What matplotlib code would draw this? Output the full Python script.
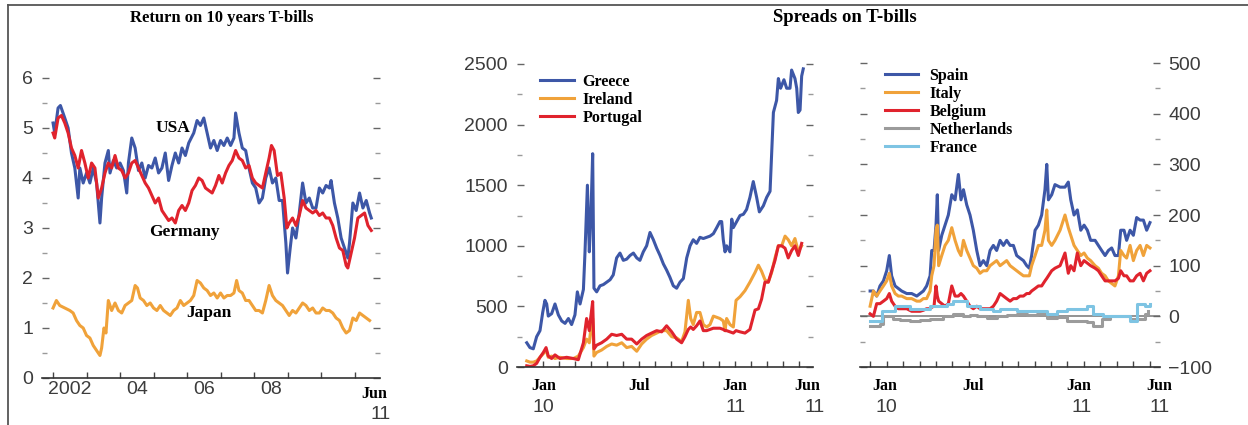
import matplotlib
matplotlib.use("Agg")
import matplotlib.pyplot as plt
from matplotlib.lines import Line2D
from matplotlib.ticker import FixedLocator

# ---------------- 10-year government bond yields (%) ----------------
usa_t = [2002.00, 2002.05, 2002.15, 2002.22, 2002.35, 2002.45, 2002.55, 2002.65, 2002.75, 2002.80,
         2002.90, 2003.00, 2003.10, 2003.20, 2003.30, 2003.40, 2003.45, 2003.55, 2003.65, 2003.70,
         2003.80, 2003.90, 2004.00, 2004.10, 2004.20, 2004.25, 2004.35, 2004.45, 2004.55, 2004.65,
         2004.75, 2004.85, 2004.95, 2005.05, 2005.15, 2005.25, 2005.35, 2005.45, 2005.55, 2005.65,
         2005.75, 2005.85, 2005.95, 2006.05, 2006.20, 2006.30, 2006.40, 2006.50, 2006.60, 2006.70,
         2006.80, 2006.90, 2007.00, 2007.10, 2007.20, 2007.30, 2007.40, 2007.45, 2007.55, 2007.65,
         2007.75, 2007.85, 2007.95, 2008.05, 2008.15, 2008.25, 2008.35, 2008.45, 2008.55, 2008.65,
         2008.75, 2008.85, 2008.95, 2009.00, 2009.08, 2009.15, 2009.25, 2009.35, 2009.45, 2009.55,
         2009.65, 2009.75, 2009.85, 2009.95, 2010.05, 2010.15, 2010.25, 2010.30, 2010.40, 2010.50,
         2010.60, 2010.70, 2010.80, 2010.85, 2010.95, 2011.05, 2011.15, 2011.25, 2011.35, 2011.45,
         2011.50]
usa_v = [5.1, 4.9, 5.4, 5.45, 5.2, 5.0, 4.5, 4.2, 3.6, 4.2,
         3.9, 4.1, 3.9, 4.2, 3.9, 3.1, 3.6, 4.3, 4.55, 4.1,
         4.35, 4.2, 4.3, 4.15, 3.7, 4.3, 4.8, 4.6, 4.15, 4.3,
         4.0, 4.25, 4.2, 4.4, 4.1, 4.2, 4.5, 3.95, 4.25, 4.5,
         4.3, 4.6, 4.45, 4.7, 4.9, 5.15, 5.05, 5.2, 4.9, 4.6,
         4.75, 4.55, 4.75, 4.65, 4.8, 4.65, 4.8, 5.3, 4.9, 4.6,
         4.55, 4.2, 3.9, 3.8, 3.5, 3.6, 4.0, 4.2, 3.9, 4.0,
         3.55, 3.55, 2.7, 2.1, 2.6, 3.0, 2.8, 3.3, 3.9, 3.5,
         3.6, 3.4, 3.4, 3.8, 3.7, 3.85, 3.8, 3.95, 3.5, 3.2,
         2.8, 2.6, 2.4, 2.7, 3.5, 3.35, 3.7, 3.4, 3.55, 3.3,
         3.2]

germany_t = [2002.00, 2002.05, 2002.15, 2002.25, 2002.35, 2002.45, 2002.55, 2002.65, 2002.75, 2002.85,
             2002.95, 2003.05, 2003.15, 2003.25, 2003.35, 2003.45, 2003.55, 2003.65, 2003.75, 2003.85,
             2003.95, 2004.05, 2004.15, 2004.25, 2004.35, 2004.45, 2004.55, 2004.65, 2004.75, 2004.85,
             2004.95, 2005.05, 2005.15, 2005.25, 2005.35, 2005.45, 2005.55, 2005.65, 2005.75, 2005.85,
             2005.95, 2006.05, 2006.15, 2006.25, 2006.35, 2006.45, 2006.55, 2006.65, 2006.75, 2006.85,
             2006.95, 2007.05, 2007.15, 2007.25, 2007.35, 2007.45, 2007.55, 2007.65, 2007.75, 2007.85,
             2007.95, 2008.05, 2008.15, 2008.25, 2008.35, 2008.45, 2008.52, 2008.60, 2008.70, 2008.80,
             2008.90, 2008.98, 2009.05, 2009.15, 2009.25, 2009.35, 2009.45, 2009.55, 2009.65, 2009.75,
             2009.85, 2009.95, 2010.05, 2010.15, 2010.25, 2010.35, 2010.45, 2010.55, 2010.65, 2010.75,
             2010.80, 2010.90, 2011.00, 2011.10, 2011.20, 2011.30, 2011.40, 2011.50]
germany_v = [4.9, 4.8, 5.2, 5.25, 5.1, 4.9, 4.6, 4.45, 4.2, 4.55,
             4.3, 4.0, 4.3, 4.2, 3.6, 3.8, 4.1, 4.3, 4.2, 4.45,
             4.2, 4.15, 4.0, 4.1, 4.3, 4.35, 4.2, 4.05, 3.9, 3.8,
             3.65, 3.5, 3.6, 3.35, 3.25, 3.15, 3.2, 3.1, 3.35, 3.45,
             3.35, 3.5, 3.75, 3.85, 4.0, 3.95, 3.8, 3.75, 3.7, 3.85,
             4.05, 3.9, 4.1, 4.25, 4.35, 4.55, 4.4, 4.35, 4.2, 4.25,
             4.0, 3.9, 3.85, 3.8, 4.1, 4.4, 4.65, 4.55, 4.05, 4.1,
             3.6, 3.0, 3.1, 3.2, 3.05, 3.25, 3.55, 3.4, 3.35, 3.3,
             3.35, 3.25, 3.3, 3.2, 3.2, 3.05, 2.8, 2.6, 2.55, 2.25,
             2.2, 2.5, 2.8, 3.2, 3.25, 3.3, 3.05, 2.95]

japan_t = [2002.00, 2002.10, 2002.20, 2002.35, 2002.50, 2002.60, 2002.70, 2002.80, 2002.90, 2003.00,
           2003.10, 2003.20, 2003.30, 2003.40, 2003.45, 2003.52, 2003.58, 2003.65, 2003.75, 2003.85,
           2003.95, 2004.05, 2004.15, 2004.25, 2004.35, 2004.45, 2004.52, 2004.60, 2004.70, 2004.80,
           2004.90, 2005.00, 2005.10, 2005.20, 2005.30, 2005.40, 2005.50, 2005.60, 2005.70, 2005.80,
           2005.90, 2006.00, 2006.10, 2006.20, 2006.30, 2006.40, 2006.50, 2006.60, 2006.70, 2006.80,
           2006.90, 2007.00, 2007.10, 2007.20, 2007.30, 2007.40, 2007.48, 2007.55, 2007.65, 2007.75,
           2007.85, 2007.95, 2008.05, 2008.15, 2008.25, 2008.35, 2008.45, 2008.55, 2008.65, 2008.75,
           2008.85, 2008.95, 2009.05, 2009.15, 2009.25, 2009.35, 2009.45, 2009.55, 2009.65, 2009.75,
           2009.85, 2009.95, 2010.05, 2010.15, 2010.25, 2010.35, 2010.45, 2010.55, 2010.65, 2010.75,
           2010.85, 2010.95, 2011.05, 2011.15, 2011.25, 2011.35, 2011.45]
japan_v = [1.4, 1.55, 1.45, 1.4, 1.35, 1.3, 1.15, 1.05, 1.0, 0.85,
           0.8, 0.65, 0.55, 0.45, 0.6, 1.0, 0.9, 1.55, 1.35, 1.5,
           1.35, 1.3, 1.45, 1.5, 1.55, 1.85, 1.8, 1.6, 1.55, 1.45,
           1.5, 1.4, 1.35, 1.45, 1.35, 1.3, 1.25, 1.35, 1.4, 1.55,
           1.45, 1.5, 1.55, 1.65, 1.95, 1.9, 1.8, 1.75, 1.65, 1.7,
           1.6, 1.7, 1.6, 1.65, 1.65, 1.7, 1.95, 1.75, 1.7, 1.55,
           1.55, 1.45, 1.35, 1.35, 1.3, 1.55, 1.85, 1.65, 1.55, 1.5,
           1.45, 1.35, 1.25, 1.35, 1.3, 1.4, 1.5, 1.45, 1.35, 1.4,
           1.3, 1.3, 1.4, 1.35, 1.35, 1.3, 1.2, 1.15, 1.0, 0.9,
           0.95, 1.2, 1.15, 1.3, 1.25, 1.2, 1.15]

year_ticks = list(range(2002, 2012))
year_labels = ["2002", "04", "06", "08"]
year_label_pos = [2002.5, 2004.5, 2006.5, 2008.5]

# ---------------- spreads vs Bund (bp), months from Jan 2010 ----------------
greece_t = [-1.04, -0.84, -0.63, -0.42, -0.21, -0.04, 0.10, 0.21, 0.31, 0.52,
            0.73, 0.94, 1.15, 1.36, 1.57, 1.77, 1.98, 2.13, 2.30, 2.51,
            2.61, 2.76, 2.88, 2.99, 3.09, 3.17, 3.34, 3.55, 3.76, 3.97,
            4.18, 4.38, 4.59, 4.80, 5.01, 5.22, 5.43, 5.64, 5.85, 6.05,
            6.26, 6.47, 6.68, 6.89, 7.10, 7.31, 7.52, 7.72, 7.93, 8.14,
            8.35, 8.56, 8.77, 8.98, 9.19, 9.39, 9.60, 9.81, 10.02, 10.23,
            10.44, 10.65, 10.86, 11.06, 11.17, 11.27, 11.38, 11.48, 11.69, 11.80,
            11.90, 12.11, 12.32, 12.53, 12.73, 12.94, 13.15, 13.36, 13.53, 13.78,
            13.99, 14.20, 14.41, 14.61, 14.72, 14.86, 15.07, 15.24, 15.45, 15.55,
            15.76, 15.87, 15.97, 16.08, 16.18, 16.28]
greece_v = [200, 160, 150, 250, 300, 450, 550, 520, 420, 440,
            520, 430, 380, 360, 400, 350, 430, 620, 520, 640,
            950, 1500, 950, 1300, 1760, 650, 620, 670, 680, 700,
            720, 760, 900, 940, 880, 890, 920, 940, 900, 880,
            950, 1000, 1110, 1050, 980, 920, 850, 800, 740, 670,
            650, 700, 730, 900, 1000, 1050, 1020, 1070, 1060, 1070,
            1080, 1100, 1150, 1200, 1200, 1050, 950, 1000, 950, 1220,
            1150, 1200, 1250, 1260, 1300, 1400, 1530, 1400, 1280, 1330,
            1400, 1450, 2100, 2200, 2380, 2300, 2370, 2300, 2300, 2450,
            2380, 2300, 2100, 2120, 2400, 2460]

periph_t = [-1.04, -0.84, -0.63, -0.42, -0.21, 0.00, 0.17, 0.31, 0.52, 0.73,
            1.04, 1.46, 1.88, 2.19, 2.51, 2.71, 2.88, 2.96, 3.09, 3.17,
            3.34, 3.65, 3.97, 4.28, 4.59, 4.91, 5.22, 5.53, 5.85, 6.16,
            6.47, 6.78, 7.10, 7.41, 7.72, 8.04, 8.35, 8.66, 8.87, 9.08,
            9.23, 9.39, 9.60, 9.81, 10.02, 10.23, 10.44, 10.65, 10.86, 11.06,
            11.27, 11.38, 11.48, 11.69, 11.90, 12.07, 12.32, 12.63, 12.94, 13.26,
            13.47, 13.67, 13.88, 14.09, 14.30, 14.51, 14.72, 14.93, 15.14, 15.34,
            15.55, 15.76, 15.97, 16.18]
ireland_v = [50, 40, 40, 50, 80, 110, 140, 80, 90, 70,
             80, 70, 70, 90, 160, 230, 200, 300, 400, 90,
             120, 140, 170, 190, 180, 200, 160, 170, 130, 190,
             230, 260, 280, 300, 300, 250, 240, 210, 290, 550,
             400, 350, 450, 450, 350, 330, 350, 420, 410, 400,
             380, 300, 400, 350, 330, 550, 580, 630, 700, 780,
             840, 790, 720, 700, 780, 900, 1000, 1000, 1080, 1050,
             1000, 1060, 950, 1000]
portugal_v = [10, 5, 10, 30, 80, 120, 160, 90, 70, 100,
              70, 80, 70, 60, 200, 400, 300, 400, 540, 150,
              180, 200, 230, 270, 260, 270, 230, 230, 190, 230,
              260, 280, 300, 290, 340, 290, 230, 200, 250, 310,
              330, 310, 340, 380, 300, 300, 310, 320, 320, 320,
              310, 300, 300, 290, 280, 300, 290, 280, 310, 470,
              480, 560, 700, 700, 790, 880, 1000, 1000, 980, 900,
              960, 1000, 920, 1020]

core_t = [-1.01, -0.81, -0.61, -0.41, -0.20, 0.00, 0.16, 0.30, 0.51, 0.71,
          0.91, 1.22, 1.52, 1.83, 2.03, 2.23, 2.43, 2.64, 2.74, 2.88,
          3.00, 3.08, 3.16, 3.35, 3.55, 3.75, 3.96, 4.16, 4.36, 4.52,
          4.67, 4.87, 5.07, 5.27, 5.48, 5.68, 5.88, 6.09, 6.29, 6.49,
          6.69, 6.90, 7.10, 7.30, 7.51, 7.71, 7.91, 8.11, 8.32, 8.52,
          8.68, 8.82, 9.03, 9.23, 9.43, 9.63, 9.74, 9.84, 10.04, 10.24,
          10.55, 10.85, 11.05, 11.20, 11.40, 11.60, 11.81, 12.01, 12.21, 12.41,
          12.68, 12.88, 13.08, 13.29, 13.49, 13.69, 13.89, 14.10, 14.24, 14.44,
          14.60, 14.81, 15.01, 15.21, 15.42, 15.62, 15.82, 16.02]
spain_v = [50, 50, 40, 60, 70, 90, 120, 80, 60, 55,
           50, 45, 45, 40, 45, 50, 60, 80, 130, 130,
           180, 240, 130, 160, 180, 200, 240, 230, 280, 230,
           250, 220, 200, 170, 130, 100, 110, 100, 130, 140,
           130, 150, 140, 150, 140, 140, 120, 115, 110, 100,
           95, 120, 170, 180, 200, 250, 300, 230, 240, 260,
           255, 255, 265, 230, 200, 210, 170, 180, 170, 150,
           150, 140, 130, 120, 130, 135, 120, 120, 170, 170,
           150, 170, 160, 195, 190, 190, 170, 185]
italy_v = [20, 50, 40, 50, 60, 70, 85, 60, 45, 40,
           40, 35, 35, 30, 30, 35, 35, 50, 80, 100,
           170, 180, 100, 120, 140, 150, 175, 150, 130, 120,
           150, 130, 115, 100, 95, 85, 90, 90, 100, 105,
           110, 100, 105, 110, 100, 95, 90, 85, 80, 80,
           80, 100, 120, 140, 140, 170, 210, 150, 140, 150,
           170, 200, 175, 160, 140, 130, 120, 125, 115, 110,
           100, 95, 85, 80, 70, 65, 60, 80, 130, 120,
           115, 140, 110, 130, 140, 120, 140, 135]
belgium_v = [5, 0, 25, 25, 30, 35, 45, 30, 20, 15,
             15, 15, 10, 10, 10, 12, 15, 15, 18, 20,
             60, 40, 30, 25, 20, 25, 60, 40, 40, 45,
             40, 30, 20, 15, 20, 15, 15, 15, 15, 20,
             30, 45, 40, 35, 30, 35, 35, 40, 40, 45,
             45, 50, 55, 60, 60, 70, 75, 80, 90, 95,
             100, 125, 85, 100, 90, 125, 100, 110, 105, 100,
             95, 90, 80, 70, 70, 70, 70, 75, 90, 80,
             80, 70, 70, 80, 85, 70, 85, 90]

netherlands_t = [-1.01, -0.71, -0.41, -0.20, 0.10, 0.41, 0.81, 1.42, 2.03, 2.64,
                 3.04, 3.45, 4.06, 4.67, 5.07, 5.48, 6.09, 6.69, 7.30, 7.91,
                 8.52, 9.13, 9.74, 10.34, 10.95, 11.56, 12.17, 12.58, 12.88, 13.08,
                 13.59, 14.20, 14.81, 15.42, 15.72, 15.92]
netherlands_v = [-20, -20, -15, 0, 0, -5, -8, -10, -8, -5,
                 -5, 0, 5, 0, 3, 0, -3, 0, 2, 5,
                 3, 5, -3, -2, -10, -10, -12, -20, -20, -5,
                 0, 0, -5, -5, 5, 10]

france_t = [-1.01, -0.61, -0.41, -0.30, 0.00, 0.30, 0.51, 0.81, 1.42, 2.03,
            2.64, 3.25, 3.65, 4.06, 4.46, 4.87, 5.27, 5.68, 6.09, 6.49,
            6.90, 7.30, 7.91, 8.52, 9.13, 9.74, 10.34, 10.95, 11.56, 12.17,
            12.58, 13.18, 13.79, 14.40, 14.81, 15.11, 15.21, 15.52, 15.72, 16.02]
france_v = [-10, -10, -10, 10, 10, 10, 20, 20, 15, 15,
            20, 20, 25, 30, 30, 20, 20, 15, 15, 10,
            15, 15, 10, 10, 10, 5, 10, 15, 15, 20,
            5, 0, 0, 0, -10, -10, 25, 25, 20, 25]

BLUE = "#3d57a7"
RED = "#e0232d"
ORANGE = "#f0a23a"
GRAY = "#9b9b9b"
LIGHT_BLUE = "#7ec4e3"

SERIF = ["Liberation Serif", "DejaVu Serif"]
SANS = ["Liberation Sans", "DejaVu Sans"]
NUM_COLOR = "#3c3c3c"
LW = 2.2


def style_axis(ax, ymajor, yminor):
    """Frame without side spines, in-pointing ticks on both sides."""
    for side in ("left", "right", "top"):
        ax.spines[side].set_visible(False)
    ax.spines["bottom"].set_color("#333333")
    ax.spines["bottom"].set_linewidth(1.2)
    ax.yaxis.set_major_locator(FixedLocator(ymajor))
    ax.yaxis.set_minor_locator(FixedLocator(yminor))
    ax.tick_params(axis="y", which="major", direction="in", left=True, right=True,
                   length=5, width=1, color="#666666", labelsize=14,
                   labelcolor=NUM_COLOR, pad=6.5)
    ax.tick_params(axis="y", which="minor", direction="in", left=True, right=True,
                   length=3.5, width=1, color="#9a9a9a")
    ax.tick_params(axis="x", which="both", direction="in", bottom=True, top=False,
                   length=4.5, width=1, color="#444444", labelbottom=False)
    for lab in ax.get_yticklabels():
        lab.set_family(SANS)


def date_label(ax, x, top, bottom=None, top_dy=-13.5, bottom_dy=-29, bottom_x=None):
    """Two-line date label: month in bold serif, year in sans."""
    ax.annotate(top, xy=(x, 0), xycoords=("data", "axes fraction"),
                xytext=(0, top_dy), textcoords="offset points",
                ha="center", va="center", family=SERIF, weight="bold",
                fontsize=11.5, color="black", annotation_clip=False)
    if bottom is not None:
        bx = x if bottom_x is None else bottom_x
        ax.annotate(bottom, xy=(bx, 0), xycoords=("data", "axes fraction"),
                    xytext=(0, bottom_dy), textcoords="offset points",
                    ha="center", va="center", family=SANS, fontsize=14,
                    color=NUM_COLOR, annotation_clip=False)


fig = plt.figure(figsize=(12.48, 4.25), dpi=100)
fig.patch.set_facecolor("white")

# outer frame: top rule and left rule
fig.add_artist(Line2D([8 / 1248, 1.0], [1 - 5 / 425, 1 - 5 / 425],
                      transform=fig.transFigure, color="#555555", lw=1.3))
fig.add_artist(Line2D([8 / 1248, 8 / 1248], [0.0, 1 - 5 / 425],
                      transform=fig.transFigure, color="#555555", lw=1.3))

fig.text(0.178, 0.958, "Return on 10 years T-bills", ha="center", va="center",
         family=SERIF, weight="bold", fontsize=12)
fig.text(0.677, 0.958, "Spreads on T-bills", ha="center", va="center",
         family=SERIF, weight="bold", fontsize=13.5)

# ---------------- left: yields ----------------
ax1 = fig.add_axes([0.03365, 0.11059, 0.27083, 0.76471])
ax1.plot(usa_t, usa_v, color=BLUE, lw=LW, solid_joinstyle="round")
ax1.plot(germany_t, germany_v, color=RED, lw=LW, solid_joinstyle="round")
ax1.plot(japan_t, japan_v, color=ORANGE, lw=LW, solid_joinstyle="round")
ax1.set_xlim(2001.67, 2011.76)
ax1.set_ylim(0, 6.5)
ax1.xaxis.set_major_locator(FixedLocator(year_ticks))
style_axis(ax1, [0, 1, 2, 3, 4, 5, 6], [0.5, 1.5, 2.5, 3.5, 4.5, 5.5])
for pos, lab in zip(year_label_pos, year_labels):
    ax1.annotate(lab, xy=(pos, 0), xycoords=("data", "axes fraction"),
                 xytext=(0, -8.3), textcoords="offset points", ha="center",
                 va="center", family=SANS, fontsize=14, color=NUM_COLOR)
date_label(ax1, 2011.6, "Jun", "11", top_dy=-11.3, bottom_dy=-26, bottom_x=2011.79)
for name, x, y in (("USA", 2005.58, 5.0), ("Germany", 2005.91, 2.92), ("Japan", 2006.66, 1.3)):
    ax1.text(x, y, name, ha="center", va="center", family=SERIF, weight="bold",
             fontsize=12.5, color="black")

# ---------------- middle: peripheral spreads ----------------
ax2 = fig.add_axes([0.41426, 0.13647, 0.23718, 0.74146])
ax2.plot(greece_t, greece_v, color=BLUE, lw=LW, label="Greece", solid_joinstyle="round")
ax2.plot(periph_t, ireland_v, color=ORANGE, lw=LW, label="Ireland", solid_joinstyle="round")
ax2.plot(periph_t, portugal_v, color=RED, lw=LW, label="Portugal", solid_joinstyle="round")
ax2.set_xlim(-1.65, 16.89)
ax2.set_ylim(0, 2600)
ax2.xaxis.set_major_locator(FixedLocator(list(range(0, 17))))
style_axis(ax2, [0, 500, 1000, 1500, 2000, 2500], [250, 750, 1250, 1750, 2250])
date_label(ax2, 0, "Jan", "10")
date_label(ax2, 6, "Jul")
date_label(ax2, 12, "Jan", "11", bottom_x=12.06)
date_label(ax2, 16.55, "Jun", "11", bottom_x=17.0)
ax2.legend(loc="upper left", bbox_to_anchor=(0.4327, 0.826), bbox_transform=fig.transFigure,
           frameon=False, borderpad=0, borderaxespad=0, handlelength=2.1,
           handletextpad=0.55, labelspacing=0.12,
           prop=dict(family=SERIF, weight="bold", size=11.5))

# ---------------- right: core spreads ----------------
ax3 = fig.add_axes([0.68910, 0.13647, 0.24038, 0.73906])
ax3.axhline(0, color="#8a8a8a", lw=1.3, zorder=1)
ax3.plot(core_t, spain_v, color=BLUE, lw=LW, label="Spain", solid_joinstyle="round")
ax3.plot(core_t, italy_v, color=ORANGE, lw=LW, label="Italy", solid_joinstyle="round")
ax3.plot(core_t, belgium_v, color=RED, lw=LW, label="Belgium", solid_joinstyle="round")
ax3.plot(netherlands_t, netherlands_v, color=GRAY, lw=LW, label="Netherlands",
         drawstyle="steps-post")
ax3.plot(france_t, france_v, color=LIGHT_BLUE, lw=LW, label="France", drawstyle="steps-post")
ax3.set_xlim(-1.625, 16.63)
ax3.set_ylim(-100, 520)
ax3.xaxis.set_major_locator(FixedLocator(list(range(-1, 17))))
style_axis(ax3, [-100, 0, 100, 200, 300, 400, 500],
           [-50, 50, 150, 250, 350, 450])
ax3.tick_params(axis="y", which="major", labelleft=False, labelright=True, pad=6)
for lab in ax3.get_yticklabels():
    lab.set_family(SANS)
date_label(ax3, -0.1, "Jan", "10", bottom_x=0.0)
date_label(ax3, 5.25, "Jul")
date_label(ax3, 11.67, "Jan", "11", bottom_x=11.86)
date_label(ax3, 16.6, "Jun", "11", bottom_x=16.63)
ax3.legend(loc="upper left", bbox_to_anchor=(0.7091, 0.84), bbox_transform=fig.transFigure,
           frameon=False, borderpad=0, borderaxespad=0, handlelength=2.1,
           handletextpad=0.7, labelspacing=0.12,
           prop=dict(family=SERIF, weight="bold", size=11.5))

fig.savefig("out.png", dpi=100, facecolor="white")
plt.close(fig)
